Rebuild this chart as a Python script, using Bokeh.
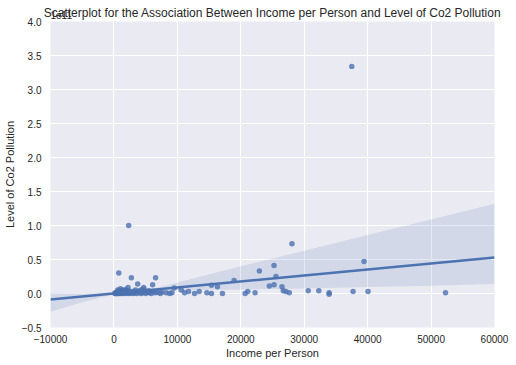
from bokeh.plotting import figure
from bokeh.models import Range1d, FixedTicker, Label
from bokeh.embed import file_html
from bokeh.resources import INLINE

# ---- data (CO2 in units of 1e11) ----
income = [37500, 2330, 28070, 39430, 25240, 22930, 760, 2750, 6570, 25550,
          3750, 6100, 4690, 2230, 1020, 9510, 10610, 11140, 11770, 12710,
          13440, 14650, 15380, 15380, 16320, 17110, 18950, 20680, 21100, 22250,
          24500, 25240, 26500, 26700, 27120, 27650, 30630, 32300, 33930, 33930,
          37700, 40060, 52280, 7580, 8250, 8780, 9150,
          150, 220, 280, 350, 400, 450, 520, 580, 640, 700, 780, 850, 920,
          1000, 1080, 1150, 1250, 1350, 1450, 1550, 1650, 1750, 1850, 1950,
          2050, 2150, 2300, 2450, 2600, 2750, 2900, 3050, 3200, 3400, 3600,
          3800, 4000, 4250, 4500, 4750, 5000, 5300, 5600, 5900, 6200, 6500,
          6900, 7300, 1300, 1700, 2500, 3300, 4400, 5500, 600, 900, 1900]
co2 = [3.34, 1.00, 0.73, 0.47, 0.41, 0.33, 0.30, 0.23, 0.23, 0.25,
       0.14, 0.13, 0.09, 0.09, 0.07, 0.08, 0.05, 0.01, 0.03, 0.00,
       0.03, 0.01, 0.00, 0.12, 0.10, 0.00, 0.19, 0.00, 0.03, 0.01,
       0.11, 0.13, 0.10, 0.04, 0.03, 0.01, 0.04, 0.04, 0.01, -0.01,
       0.03, 0.03, 0.01, 0.02, 0.01, 0.00, 0.01,
       0.00, 0.01, 0.00, 0.01, 0.00, 0.02, 0.00, 0.01, 0.03, 0.00, 0.01, 0.02, 0.00,
       0.04, 0.01, 0.00, 0.02, 0.05, 0.01, 0.00, 0.03, 0.01, 0.06, 0.00,
       0.02, 0.01, 0.04, 0.00, 0.02, 0.01, 0.03, 0.00, 0.01, 0.05, 0.00,
       0.02, 0.04, 0.00, 0.01, 0.06, 0.00, 0.02, 0.01, 0.00, 0.03, 0.01,
       0.02, 0.00, 0.03, 0.02, 0.01, 0.03, 0.06, 0.04, 0.05, 0.02, 0.04]

fit_x = [-10000, 60000]
fit_y = [-0.088, 0.53]

band_x = [-10000, -5000, 0, 2500, 5000, 7500, 10000, 20000, 30000, 40000, 50000, 60000]
band_lower = [-0.27, -0.13, -0.01, 0.01, 0.03, 0.045, 0.05, 0.06, 0.075, 0.095, 0.115, 0.14]
band_upper = [0.01, 0.005, 0.02, 0.035, 0.06, 0.10, 0.16, 0.40, 0.63, 0.86, 1.09, 1.32]

x_ticks = [-10000, 0, 10000, 20000, 30000, 40000, 50000, 60000]
x_tick_labels = ["\u221210000", "0", "10000", "20000", "30000", "40000", "50000", "60000"]
y_ticks = [-0.5, 0.0, 0.5, 1.0, 1.5, 2.0, 2.5, 3.0, 3.5, 4.0]
y_tick_labels = ["\u22120.5", "0.0", "0.5", "1.0", "1.5", "2.0", "2.5", "3.0", "3.5", "4.0"]

title_text = "Scatterplot for the Association Between Income per Person and Level of Co2 Pollution"
x_label = "Income per Person"
y_label = "Level of Co2 Pollution"
offset_text = "1e11"

FONT = "Liberation Sans"
TXT = "#262626"
BLUE = "#4C72B0"

p = figure(width=516, height=365, output_backend="svg", toolbar_location=None,
           x_range=Range1d(-10000, 60000), y_range=Range1d(-0.5, 4.0),
           min_border_left=50, min_border_right=21, min_border_top=21, min_border_bottom=38)
p.background_fill_color = "#EAEAF2"
p.border_fill_color = "white"
p.outline_line_color = None

p.title.text = title_text
p.title.align = "center"
p.title.text_font = FONT
p.title.text_font_size = "12px"
p.title.text_font_style = "normal"
p.title.text_color = TXT
p.title.standoff = 3

for ax in (p.xaxis[0], p.yaxis[0]):
    ax.axis_line_color = None
    ax.major_tick_line_color = None
    ax.minor_tick_line_color = None
    ax.major_tick_out = 0
    ax.major_tick_in = 0
    ax.major_label_text_font = FONT
    ax.major_label_text_font_size = "10px"
    ax.major_label_text_color = TXT
    ax.axis_label_text_font = FONT
    ax.axis_label_text_font_size = "11px"
    ax.axis_label_text_font_style = "normal"
    ax.axis_label_text_color = TXT

p.xaxis.ticker = FixedTicker(ticks=x_ticks)
p.xaxis.major_label_overrides = dict(zip(x_ticks, x_tick_labels))
p.yaxis.ticker = FixedTicker(ticks=y_ticks)
p.yaxis.major_label_overrides = dict(zip(y_ticks, y_tick_labels))
p.xaxis.axis_label = x_label
p.yaxis.axis_label = y_label
p.xaxis.major_label_standoff = 7
p.xaxis.axis_label_standoff = 1
p.yaxis.major_label_standoff = 9
p.yaxis.axis_label_standoff = 3

p.xgrid.grid_line_color = "white"
p.ygrid.grid_line_color = "white"
p.xgrid.grid_line_width = 1
p.ygrid.grid_line_width = 1

p.varea(x=band_x, y1=band_lower, y2=band_upper, fill_color=BLUE, fill_alpha=0.15)
p.scatter(income, co2, size=5.5, fill_color=BLUE, fill_alpha=0.8, line_color=None)
p.line(fit_x, fit_y, line_color=BLUE, line_width=2.6)

# offset text "1e11" drawn above the frame's top-left corner (placed in a side
# panel so that it is not clipped to the frame)
p.add_layout(Label(x=-10000, y=4.0, text=offset_text, text_align="left",
                   text_baseline="alphabetic", y_offset=7, text_font=FONT,
                   text_font_size="10px", text_color=TXT), "right")

open("out.html", "w").write(file_html(p, INLINE))
